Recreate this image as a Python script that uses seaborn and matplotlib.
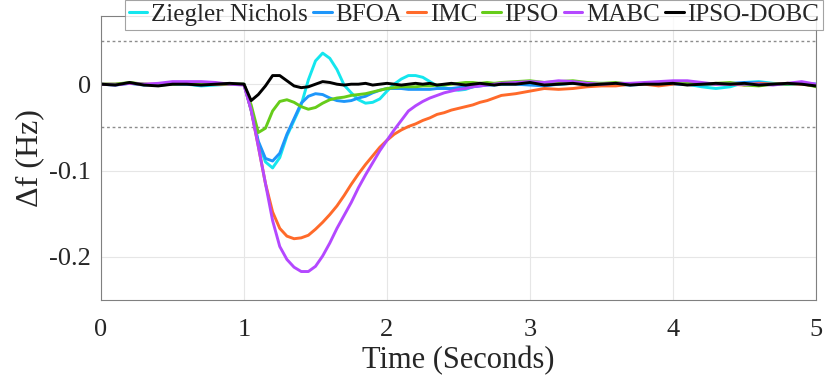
import numpy as np
import matplotlib
matplotlib.use("Agg")
import matplotlib.pyplot as plt
import pandas as pd
import seaborn as sns

# sample times (s)
time = [0.0, 0.1, 0.2, 0.3, 0.4, 0.5, 0.6, 0.7, 0.8, 0.9, 1.0,
        1.05, 1.10, 1.15, 1.20, 1.25, 1.30, 1.35, 1.40, 1.45, 1.50, 1.55, 1.60,
        1.65, 1.70, 1.75, 1.80, 1.85, 1.90, 1.95, 2.00, 2.05, 2.10, 2.15, 2.20,
        2.25, 2.30, 2.35, 2.40, 2.45, 2.50, 2.55, 2.60, 2.65, 2.70, 2.75, 2.80,
        2.9, 3.0, 3.1, 3.2, 3.3, 3.4, 3.5, 3.6, 3.7, 3.8, 3.9, 4.0,
        4.1, 4.2, 4.3, 4.4, 4.5, 4.6, 4.7, 4.8, 4.9, 5.0]

# frequency deviation (Hz) per controller
ziegler_nichols = [0.000, -0.001, 0.001, 0.000, -0.001, 0.000, 0.000, -0.002, -0.001, 0.000, 0.000,
                   -0.030, -0.068, -0.090, -0.097, -0.085, -0.060, -0.042, -0.024, 0.005, 0.027, 0.036, 0.030,
                   0.017, -0.001, -0.010, -0.018, -0.022, -0.021, -0.017, -0.008, 0.000, 0.006, 0.010, 0.010,
                   0.008, 0.003, -0.002, -0.004, -0.006, -0.007, -0.006, -0.003, -0.001, 0.000, 0.001, 0.000,
                   0.001, 0.000, -0.001, 0.000, 0.001, 0.000, 0.000, 0.001, 0.000, 0.000, 0.001, 0.001,
                   0.000, -0.003, -0.005, -0.003, 0.002, 0.003, 0.001, 0.000, 0.001, 0.000]
bfoa = [0.000, 0.000, 0.001, -0.001, 0.000, 0.001, 0.000, -0.001, 0.000, 0.000, 0.000,
        -0.030, -0.066, -0.086, -0.089, -0.080, -0.058, -0.040, -0.022, -0.014, -0.011, -0.012, -0.016,
        -0.019, -0.020, -0.019, -0.016, -0.014, -0.010, -0.007, -0.005, -0.005, -0.005, -0.006, -0.006,
        -0.006, -0.006, -0.005, -0.005, -0.005, -0.004, -0.003, -0.003, -0.002, -0.001, -0.001, 0.000,
        0.000, -0.001, -0.002, 0.000, 0.001, 0.000, 0.001, 0.000, -0.001, 0.000, 0.001, 0.000,
        0.000, -0.001, 0.000, 0.001, 0.002, 0.002, 0.000, 0.000, 0.001, 0.000]
imc = [0.000, 0.000, 0.001, 0.000, 0.000, 0.001, 0.001, 0.000, 0.000, 0.000, 0.000,
       -0.030, -0.072, -0.115, -0.148, -0.167, -0.176, -0.179, -0.178, -0.175, -0.168, -0.160, -0.151,
       -0.141, -0.129, -0.116, -0.104, -0.093, -0.083, -0.073, -0.065, -0.058, -0.053, -0.049, -0.046,
       -0.042, -0.039, -0.035, -0.033, -0.030, -0.028, -0.026, -0.024, -0.021, -0.019, -0.016, -0.013,
       -0.011, -0.008, -0.005, -0.006, -0.005, -0.003, -0.002, -0.002, 0.000, 0.000, -0.002, 0.000,
       0.002, 0.001, 0.000, 0.000, -0.001, 0.001, 0.000, 0.001, 0.000, -0.002]
ipso = [0.000, 0.000, 0.002, 0.000, -0.001, 0.000, 0.001, 0.000, 0.001, 0.000, 0.000,
        -0.024, -0.056, -0.051, -0.031, -0.020, -0.018, -0.021, -0.026, -0.029, -0.027, -0.022, -0.018,
        -0.016, -0.015, -0.013, -0.012, -0.011, -0.009, -0.007, -0.005, -0.004, -0.003, -0.003, -0.003,
        -0.002, -0.002, -0.001, -0.001, 0.000, 0.001, 0.002, 0.002, 0.001, 0.002, 0.001, 0.002,
        0.003, 0.004, 0.002, 0.003, 0.004, 0.002, 0.001, 0.002, 0.000, 0.001, 0.001, 0.002,
        0.001, 0.000, 0.001, 0.002, -0.001, -0.002, 0.000, 0.000, 0.001, -0.003]
mabc = [0.000, -0.001, 0.001, 0.000, 0.001, 0.003, 0.003, 0.003, 0.002, 0.000, -0.001,
        -0.030, -0.072, -0.115, -0.158, -0.188, -0.203, -0.212, -0.217, -0.217, -0.211, -0.199, -0.184,
        -0.167, -0.152, -0.137, -0.120, -0.105, -0.091, -0.077, -0.065, -0.053, -0.042, -0.031, -0.025,
        -0.020, -0.016, -0.013, -0.010, -0.008, -0.006, -0.005, -0.003, -0.002, -0.001, 0.000, 0.001,
        0.002, 0.003, 0.002, 0.004, 0.003, 0.001, 0.000, 0.001, 0.001, 0.002, 0.003, 0.004,
        0.004, 0.002, 0.000, 0.000, 0.000, 0.000, -0.001, 0.001, 0.003, 0.000]
ipso_dobc = [0.000, -0.001, 0.002, -0.001, -0.002, 0.000, 0.000, -0.001, 0.000, 0.001, 0.000,
             -0.019, -0.012, -0.002, 0.010, 0.010, 0.004, -0.002, -0.004, -0.003, 0.000, 0.003, 0.002,
             0.000, -0.001, 0.000, 0.000, 0.001, -0.001, 0.000, 0.001, 0.000, -0.001, 0.000, 0.001,
             0.000, 0.001, -0.001, 0.000, 0.001, 0.000, -0.001, 0.000, 0.001, 0.000, -0.001, 0.000,
             0.000, 0.002, -0.001, 0.000, 0.001, -0.001, 0.000, 0.001, -0.001, 0.000, 0.000, 0.001,
             -0.001, 0.000, 0.001, 0.000, 0.001, -0.001, 0.000, 0.001, 0.000, -0.002]

names = ["Ziegler Nichols", "BFOA", "IMC", "IPSO", "MABC", "IPSO-DOBC"]
series = [ziegler_nichols, bfoa, imc, ipso, mabc, ipso_dobc]
colors = ["#14E6EE", "#1E96FA", "#FF6A2A", "#66CC1A", "#B448FF", "#000000"]

df = pd.concat([pd.DataFrame({"t": time, "df": s, "method": n})
                for n, s in zip(names, series)], ignore_index=True)

sns.set_theme(style="white")
plt.rcParams["font.family"] = ["Liberation Serif", "DejaVu Serif"]

fig = plt.figure(figsize=(8.3, 3.8), dpi=100)
ax = fig.add_axes([0.1217, 0.2105, 0.8614, 0.7474])

ax.grid(True, color="#E6E6E6", linewidth=0.8)
ax.set_axisbelow(True)
for yv in (0.05, -0.05):
    ax.axhline(yv, color="#8C8C8C", linestyle=(0, (2, 2)), linewidth=1.0, zorder=1)

sns.lineplot(data=df, x="t", y="df", hue="method", hue_order=names,
             palette=colors, linewidth=2.1, ax=ax, legend=True)

ax.set_xlim(0, 5)
ax.set_ylim(-0.25, 0.079)
ax.set_xticks([0, 1, 2, 3, 4, 5])
ax.set_xticklabels(["0", "1", "2", "3", "4", "5"])
ax.set_yticks([-0.2, -0.1, 0])
ax.set_yticklabels(["-0.2", "-0.1", "0"])
ax.tick_params(direction="in", length=4, color="#808080", labelsize=19)
ax.tick_params(axis="x", pad=14)
ax.tick_params(axis="y", pad=7)
for sp in ax.spines.values():
    sp.set_color("#808080")
    sp.set_linewidth(0.8)
ax.set_xlabel("Time (Seconds)", fontsize=22, labelpad=3)
ax.set_ylabel("Δf (Hz)", fontsize=23, labelpad=4)

leg = ax.legend(loc="upper right", bbox_to_anchor=(1.0098, 1.057), ncol=6,
                fontsize=18, frameon=True, fancybox=False, handlelength=0.75,
                handletextpad=0.15, columnspacing=0.2, borderpad=0.15,
                borderaxespad=0)
leg.get_frame().set_edgecolor("#8C8C8C")
leg.get_frame().set_linewidth(0.8)
for line in leg.get_lines():
    line.set_linewidth(2.2)

fig.savefig("out.png", dpi=100)
